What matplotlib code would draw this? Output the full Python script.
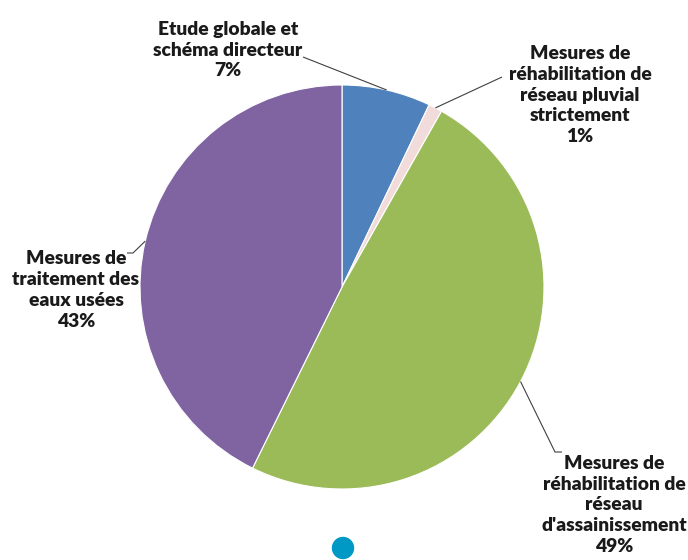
import matplotlib
matplotlib.use("Agg")
import matplotlib.pyplot as plt
import numpy as np
from matplotlib.patches import Circle

categories = [
    "Etude globale et\nschéma directeur",
    "Mesures de\nréhabilitation de\nréseau pluvial\nstrictement",
    "Mesures de\nréhabilitation de\nréseau\nd'assainissement",
    "Mesures de\ntraitement des\neaux usées",
]
values = [7.1, 1.1, 49.1, 42.7]
pct_labels = ["7%", "1%", "49%", "43%"]
colors = ["#4F81BD", "#F2DCDB", "#9BBB59", "#8064A2"]

W, H = 688, 560
fig = plt.figure(figsize=(W / 100, H / 100), dpi=100)
ax = fig.add_axes([0, 0, 1, 1])

cx, cy, R = 342, H - 287, 202
wedges, _ = ax.pie(values, colors=colors, startangle=90, counterclock=False,
                   center=(cx, cy), radius=R, frame=True,
                   wedgeprops=dict(edgecolor="white", linewidth=0.8))
ax.set_xlim(0, W)
ax.set_ylim(0, H)
ax.set_aspect("equal")
ax.axis("off")

# label centers (pixel coords from top) and leader elbow points
label_pos = [(228, 50), (580, 95), (614, 505), (76, 290)]
elbows = [[(303, 57)], [(502, 77)], [(555, 452), (562, 452)], [(133, 253), (127, 253)]]

font = dict(family=["Lato", "DejaVu Sans"], fontsize=13.9, fontweight="heavy", color="#1a1a1a")
for w, cat, pct, (lx, ly), el in zip(wedges, categories, pct_labels, label_pos, elbows):
    ang = np.deg2rad((w.theta1 + w.theta2) / 2)
    px, py = cx + R * np.cos(ang), cy + R * np.sin(ang)
    xs = [px] + [e[0] for e in el]
    ys = [py] + [H - e[1] for e in el]
    ax.plot(xs, ys, color="#404040", lw=0.8, solid_capstyle="butt")
    ax.text(lx, H - ly, cat + "\n" + pct, ha="center", va="center",
            linespacing=1.27, **font)

ax.add_patch(Circle((343, H - 548), 10.5, color="#0099C6", zorder=5))

fig.savefig("out.png", dpi=100)
